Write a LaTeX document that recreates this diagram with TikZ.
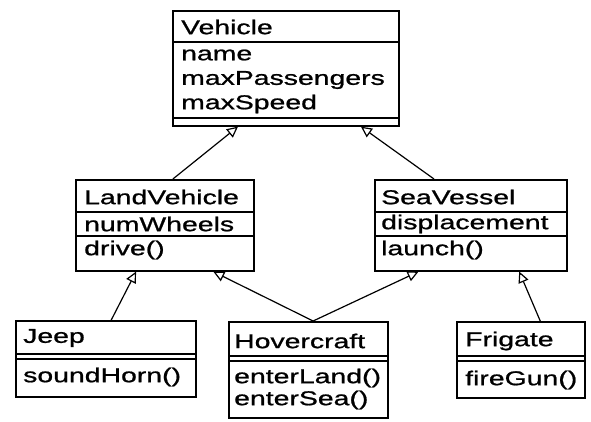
\documentclass[tikz,border=0pt]{standalone}
\usepackage{fontspec}
\setmainfont{Liberation Sans}[FakeStretch=1.42,FakeBold=1]
\usetikzlibrary{arrows.meta,calc}
\begin{document}
\begin{tikzpicture}[x=1pt,y=-1pt,
  box/.style={draw, line width=1.6pt, inner sep=0pt, anchor=north west},
  sep/.style={line width=1.3pt},
  txt/.style={anchor=west, inner sep=0pt, font=\fontsize{20}{20}\selectfont},
  gen/.style={line width=1.2pt, -{Triangle[open,length=11pt,width=10.5pt,line width=1.2pt]}}]
\useasboundingbox (0,0) rectangle (591,421);
% Vehicle
\node[box, minimum width=226pt, minimum height=115pt] (veh) at (172,10) {};
\draw[sep] (172,42) -- (398,42);
\draw[sep] (172,118) -- (398,118);
\node[txt] (vehT) at (181,27) {Vehicle};
\node[txt] (vehA1) at (181,55) {name};
\node[txt] (vehA2) at (181,80) {maxPassengers};
\node[txt] (vehA3) at (181,104) {maxSpeed};
% LandVehicle
\node[box, minimum width=178pt, minimum height=91pt] (lv) at (75,179) {};
\draw[sep] (75,212) -- (253,212);
\draw[sep] (75,236) -- (253,236);
\node[txt] (lvT) at (84,197) {LandVehicle};
\node[txt] (lvA) at (84,224) {numWheels};
\node[txt] (lvO) at (84,250) {drive()};
% SeaVessel
\node[box, minimum width=192pt, minimum height=91pt] (sv) at (374,179) {};
\draw[sep] (374,212) -- (566,212);
\draw[sep] (374,236) -- (566,236);
\node[txt] (svT) at (381,197) {SeaVessel};
\node[txt] (svA) at (381,224) {displacement};
\node[txt] (svO) at (381,250) {launch()};
% Jeep
\node[box, minimum width=180pt, minimum height=76pt] (jeep) at (15,320) {};
\draw[sep] (15,354) -- (195,354);
\draw[sep] (15,359) -- (195,359);
\node[txt] (jeepT) at (23,338) {Jeep};
\node[txt] (jeepO) at (23,377) {soundHorn()};
% Hovercraft
\node[box, minimum width=159pt, minimum height=96pt] (hov) at (228,321) {};
\draw[sep] (228,356) -- (387,356);
\draw[sep] (228,361) -- (387,361);
\node[txt] (hovT) at (234,341) {Hovercraft};
\node[txt] (hovO1) at (234,378) {enterLand()};
\node[txt] (hovO2) at (234,400) {enterSea()};
% Frigate
\node[box, minimum width=128pt, minimum height=76pt] (fri) at (456,321) {};
\draw[sep] (456,356) -- (584,356);
\draw[sep] (456,361) -- (584,361);
\node[txt] (friT) at (465,341) {Frigate};
\node[txt] (friO) at (465,380) {fireGun()};
% generalizations
\draw[gen] ($(lv.north west)!0.545!(lv.north east)$) -- ($(veh.south west)!0.29!(veh.south east)$);
\draw[gen] ($(sv.north west)!0.31!(sv.north east)$) -- ($(veh.south west)!0.83!(veh.south east)$);
\draw[gen] ($(jeep.north west)!0.53!(jeep.north east)$) -- ($(lv.south west)!0.34!(lv.south east)$);
\draw[gen] ($(hov.north west)!0.53!(hov.north east)$) -- ($(lv.south west)!0.77!(lv.south east)$);
\draw[gen] ($(hov.north west)!0.53!(hov.north east)$) -- ($(sv.south west)!0.23!(sv.south east)$);
\draw[gen] ($(fri.north west)!0.65!(fri.north east)$) -- ($(sv.south west)!0.75!(sv.south east)$);
\end{tikzpicture}
\end{document}
